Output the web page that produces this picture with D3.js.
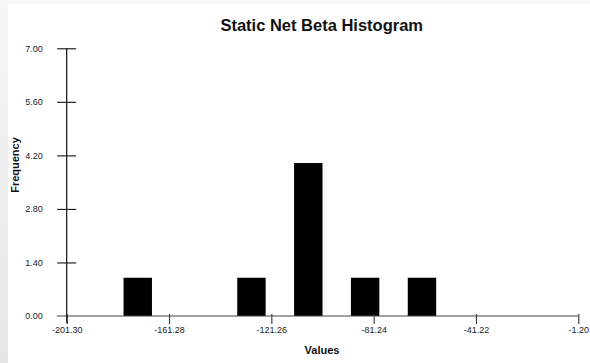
<!DOCTYPE html>
<html>
<head>
<meta charset="utf-8">
<script src="https://cdn.jsdelivr.net/npm/d3@7"></script>
<style>
  html, body { margin: 0; padding: 0; background: #ffffff; }
  svg { display: block; }
</style>
</head>
<body>
<svg id="chart" width="590" height="363"></svg>
<script>
// Histogram of static net beta values: 9 equal bins over the value range
const valueDomain = [-201.30, -1.20];
const binCounts = [0, 1, 0, 1, 4, 1, 1, 0, 0];
const xTickLabels = ["-201.30", "-161.28", "-121.26", "-81.24", "-41.22", "-1.20"];
const yTickLabels = ["0.00", "1.40", "2.80", "4.20", "5.60", "7.00"];
const yMax = 7.0;

const svg = d3.select("#chart");
const W = 590, H = 363;
const margin = { left: 66.7, right: 11.7, top: 48.3, bottom: 47 };

// Window frame
const defs = svg.append("defs");
const grad = defs.append("linearGradient").attr("id", "edge").attr("x1", 0).attr("y1", 0).attr("x2", 0).attr("y2", 1);
grad.append("stop").attr("offset", "0%").attr("stop-color", "#f6f6f6");
grad.append("stop").attr("offset", "100%").attr("stop-color", "#e6e6e6");
svg.append("rect").attr("x", 0).attr("y", 0).attr("width", W).attr("height", 4).attr("fill", "#f8f8f8");
svg.append("rect").attr("x", 0).attr("y", 0).attr("width", 8).attr("height", H).attr("fill", "url(#edge)");

const x = d3.scaleLinear().domain(valueDomain).range([margin.left, W - margin.right]);
const y = d3.scaleLinear().domain([0, yMax]).range([H - margin.bottom, margin.top]);

const nBins = binCounts.length;
const binWidth = (valueDomain[1] - valueDomain[0]) / nBins;
const bins = binCounts.map((c, i) => ({
  x0: valueDomain[0] + i * binWidth,
  x1: valueDomain[0] + (i + 0.5) * binWidth,
  count: c
}));

// Bars (each fills the left half of its bin)
svg.append("g").selectAll("rect")
  .data(bins.filter(d => d.count > 0))
  .join("rect")
  .attr("x", d => x(d.x0))
  .attr("y", d => y(d.count))
  .attr("width", d => x(d.x1) - x(d.x0))
  .attr("height", d => y(0) - y(d.count))
  .attr("fill", "#000000");

// X axis
const xTickValues = xTickLabels.map(Number);
const xAxis = d3.axisBottom(x)
  .tickValues(xTickValues)
  .tickFormat((d, i) => xTickLabels[i])
  .tickSizeOuter(0)
  .tickSize(8)
  .tickPadding(3);
const gx = svg.append("g").attr("transform", `translate(0,${y(0)})`).call(xAxis);
gx.select(".domain").remove();
gx.append("line")
  .attr("x1", margin.left - 10).attr("x2", x(valueDomain[1]))
  .attr("y1", 0).attr("y2", 0)
  .attr("stroke", "#444").attr("stroke-width", 1.2);
gx.selectAll(".tick line").attr("stroke", "#333").attr("stroke-width", 1.1).attr("y1", -2);
gx.selectAll(".tick text")
  .attr("fill", "#222")
  .style("font-family", "'Liberation Sans', Arial, sans-serif")
  .style("font-size", "9px");

// Y axis
const yTickValues = yTickLabels.map(Number);
const yAxis = d3.axisLeft(y)
  .tickValues(yTickValues)
  .tickFormat((d, i) => yTickLabels[i])
  .tickSizeOuter(0)
  .tickSize(0)
  .tickPadding(24);
const gy = svg.append("g").attr("transform", `translate(${margin.left},0)`).call(yAxis);
gy.select(".domain").remove();
gy.append("line")
  .attr("x1", 0).attr("x2", 0)
  .attr("y1", y(yMax)).attr("y2", y(0) + 7)
  .attr("stroke", "#111").attr("stroke-width", 1.2);
gy.selectAll(".tick").filter(d => d > 0).append("line")
  .attr("x1", -9.5).attr("x2", 9.5)
  .attr("stroke", "#111").attr("stroke-width", 1.1);
gy.selectAll(".tick text")
  .attr("fill", "#222")
  .style("font-family", "'Liberation Sans', Arial, sans-serif")
  .style("font-size", "9px");

// Titles
svg.append("text")
  .attr("x", 321.7).attr("y", 31)
  .attr("text-anchor", "middle")
  .style("font-family", "'Liberation Sans', Arial, sans-serif")
  .style("font-size", "16.5px").style("font-weight", "bold")
  .attr("fill", "#111")
  .text("Static Net Beta Histogram");

svg.append("text")
  .attr("x", 322).attr("y", 354)
  .attr("text-anchor", "middle")
  .style("font-family", "'Liberation Sans', Arial, sans-serif")
  .style("font-size", "11px").style("font-weight", "bold")
  .attr("fill", "#111")
  .text("Values");

svg.append("text")
  .attr("transform", "translate(19,165) rotate(-90)")
  .attr("text-anchor", "middle")
  .style("font-family", "'Liberation Sans', Arial, sans-serif")
  .style("font-size", "11px").style("font-weight", "bold")
  .attr("fill", "#111")
  .text("Frequency");
</script>
</body>
</html>
